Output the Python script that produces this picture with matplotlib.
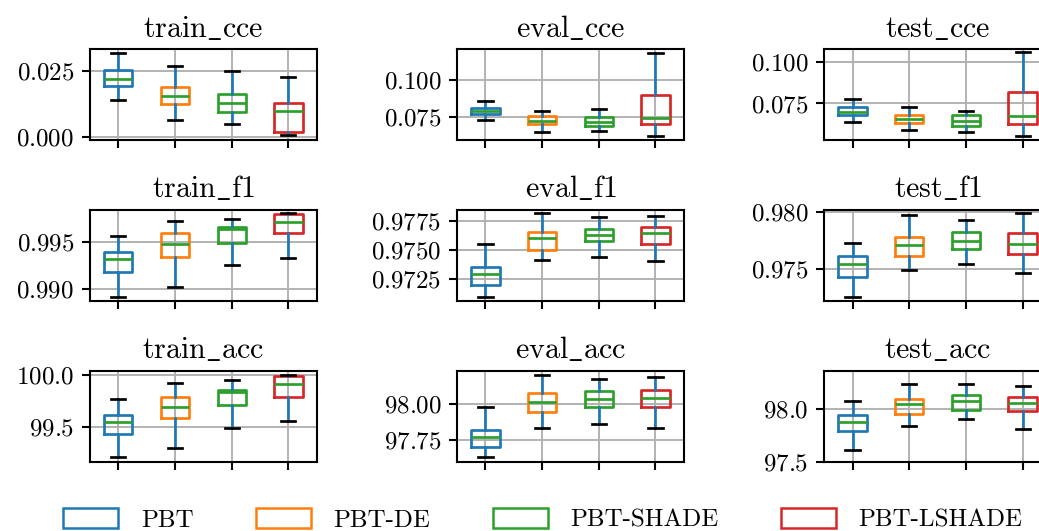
"""Boxplots of train/eval/test metrics for the PBT variants."""

import matplotlib

matplotlib.use("Agg")
import matplotlib.pyplot as plt
from matplotlib.patches import Patch

plt.rcParams["font.family"] = "serif"
plt.rcParams["font.serif"] = ["cmr10", "DejaVu Serif"]
plt.rcParams["mathtext.fontset"] = "cm"
plt.rcParams["axes.formatter.use_mathtext"] = True
plt.rcParams["font.size"] = 12

methods = ["PBT", "PBT-DE", "PBT-SHADE", "PBT-LSHADE"]
colors = ["#1f77b4", "#ff7f0e", "#2ca02c", "#d62728"]

# (whisker low, q1, median, q3, whisker high) per method
train_cce = [(0.0140, 0.0192, 0.0220, 0.0254, 0.0317),
             (0.0064, 0.0122, 0.0155, 0.0188, 0.0269),
             (0.0049, 0.0092, 0.0126, 0.0162, 0.0251),
             (0.0004, 0.0016, 0.0096, 0.0129, 0.0226)]
eval_cce = [(0.0727, 0.0773, 0.0788, 0.0811, 0.0861),
            (0.0648, 0.0700, 0.0725, 0.0757, 0.0793),
            (0.0657, 0.0686, 0.0713, 0.0750, 0.0805),
            (0.0622, 0.0705, 0.0743, 0.0902, 0.1186)]
test_cce = [(0.0640, 0.0682, 0.0698, 0.0728, 0.0778),
            (0.0589, 0.0635, 0.0658, 0.0682, 0.0730),
            (0.0579, 0.0615, 0.0644, 0.0680, 0.0702),
            (0.0555, 0.0627, 0.0674, 0.0819, 0.1060)]
train_f1 = [(0.98921, 0.99185, 0.99317, 0.99392, 0.99564),
            (0.99021, 0.99339, 0.99482, 0.99593, 0.99724),
            (0.99257, 0.99489, 0.99635, 0.99660, 0.99743),
            (0.99335, 0.99593, 0.99710, 0.99799, 0.99807)]
eval_f1 = [(0.97100, 0.97203, 0.97293, 0.97353, 0.97549),
           (0.97414, 0.97503, 0.97597, 0.97652, 0.97813),
           (0.97442, 0.97572, 0.97626, 0.97675, 0.97784),
           (0.97402, 0.97549, 0.97641, 0.97692, 0.97793)]
test_f1 = [(0.97251, 0.97424, 0.97539, 0.97607, 0.97728),
           (0.97486, 0.97613, 0.97704, 0.97775, 0.97970),
           (0.97536, 0.97672, 0.97746, 0.97823, 0.97923),
           (0.97459, 0.97624, 0.97713, 0.97808, 0.97985)]
train_acc = [(99.204, 99.429, 99.548, 99.610, 99.765),
             (99.297, 99.581, 99.691, 99.787, 99.929),
             (99.490, 99.707, 99.838, 99.858, 99.949),
             (99.552, 99.790, 99.910, 99.993, 100.000)]
eval_acc = [(97.633, 97.702, 97.771, 97.819, 97.977),
            (97.833, 97.943, 98.012, 98.078, 98.199),
            (97.860, 97.981, 98.036, 98.087, 98.172),
            (97.833, 97.979, 98.041, 98.094, 98.190)]
test_acc = [(97.615, 97.792, 97.872, 97.946, 98.071),
            (97.840, 97.956, 98.045, 98.096, 98.240),
            (97.901, 97.985, 98.077, 98.129, 98.240),
            (97.811, 97.981, 98.052, 98.110, 98.218)]

panels = [
    ("train_cce", train_cce, (-0.0015, 0.0333), [0.0, 0.025]),
    ("eval_cce", eval_cce, (0.0590, 0.1214), [0.075, 0.100]),
    ("test_cce", test_cce, (0.0527, 0.1078), [0.075, 0.100]),
    ("train_f1", train_f1, (0.98871, 0.99842), [0.990, 0.995]),
    ("eval_f1", eval_f1, (0.97060, 0.97841), [0.9725, 0.9750, 0.9775]),
    ("test_f1", test_f1, (0.97211, 0.98015), [0.975, 0.980]),
    ("train_acc", train_acc, (99.156, 100.042), [99.5, 100.0]),
    ("eval_acc", eval_acc, (97.599, 98.229), [97.75, 98.00]),
    ("test_acc", test_acc, (97.494, 98.360), [97.5, 98.0]),
]


def main() -> None:
    fig, axes = plt.subplots(3, 3, figsize=(1039 / 150, 531 / 150), dpi=150)
    fig.subplots_adjust(left=0.0866, right=1.0115, top=0.9077, bottom=0.1294,
                        wspace=0.619, hspace=0.76)

    lw = 1.3
    for ax, (name, rows, ylim, yticks) in zip(axes.flat, panels):
        stats = [
            {"whislo": lo, "q1": q1, "med": med, "q3": q3, "whishi": hi, "fliers": []}
            for lo, q1, med, q3, hi in rows
        ]
        art = ax.bxp(stats, positions=[1, 2, 3, 4], widths=0.5, showfliers=False,
                     whiskerprops={"color": "#1f77b4", "linewidth": lw},
                     capprops={"color": "black", "linewidth": lw},
                     medianprops={"color": "#2ca02c", "linewidth": lw},
                     boxprops={"linewidth": lw})
        for box, color in zip(art["boxes"], colors):
            box.set_color(color)
        ax.set_xticks([1, 2, 3, 4])
        ax.set_xticklabels([])
        ax.set_xlim(0.5, 4.5)
        ax.set_ylim(*ylim)
        ax.set_yticks(yticks)
        ax.ticklabel_format(axis="y", useOffset=False)
        ax.tick_params(width=1.0, length=4)
        for spine in ax.spines.values():
            spine.set_linewidth(1.0)
        ax.grid(True, color="#b0b0b0", linewidth=0.9)
        ax.set_title("$\\mathrm{" + name.replace("_", "\\_") + "}$", pad=6)

    handles = [Patch(facecolor="white", edgecolor=c, linewidth=1.2) for c in colors]
    fig.legend(handles, methods, loc="center", ncol=4, frameon=False,
               bbox_to_anchor=(543 / 1039, 1 - 520 / 531),
               handlelength=2.2, handleheight=0.8, handletextpad=0.9,
               columnspacing=2.5)

    fig.savefig("out.png", dpi=150)


if __name__ == "__main__":
    main()
